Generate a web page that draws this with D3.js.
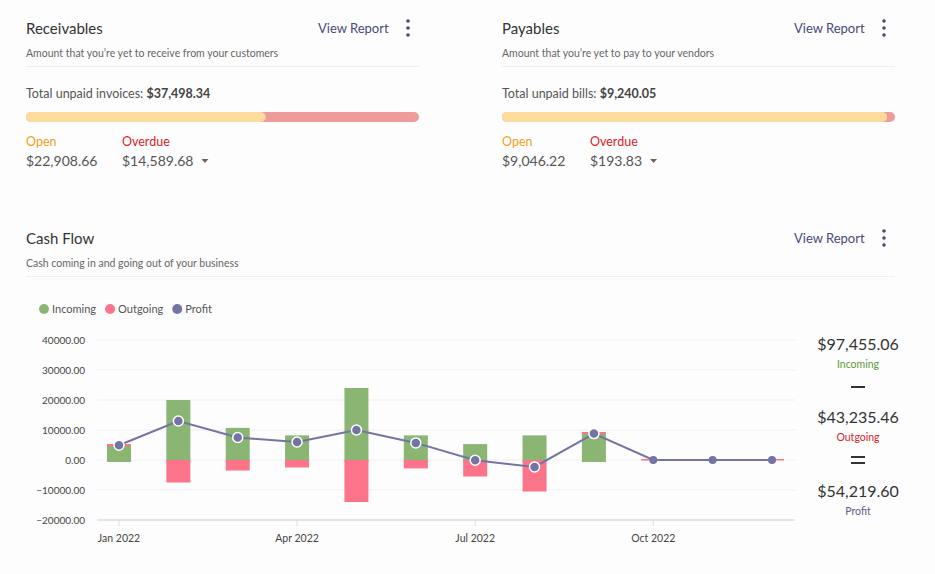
<!DOCTYPE html>
<html><head><meta charset="utf-8">
<script src="https://cdn.jsdelivr.net/npm/d3@7"></script>
<style>
body{margin:0;background:#fdfdfd;font-family:Lato,"Open Sans",sans-serif;}
svg text{font-family:Lato,"Open Sans",sans-serif;}
</style></head>
<body><svg id="c" width="935" height="574"></svg>
<script>
const months = ['Jan 2022','Feb 2022','Mar 2022','Apr 2022','May 2022','Jun 2022','Jul 2022','Aug 2022','Sep 2022','Oct 2022','Nov 2022','Dec 2022'];
const incoming = [5000,20000,10700,8200,24000,8200,5300,8200,9000,0,0,0];
const outgoing = [-300,-7500,-3500,-2500,-14000,-2800,-5500,-10500,-300,0,0,0];
const profit = [4900,13000,7500,6000,10000,5700,-100,-2300,8800,0,0,0];
const yTicks = [40000,30000,20000,10000,0,-10000,-20000];
const xTickLabels = ['Jan 2022','Apr 2022','Jul 2022','Oct 2022'];

const svg = d3.select('#c');

// header cards
function card(x, title, sub, totalLabel, total, openV, overV, frac, overX){
  const g = svg.append('g').attr('transform',`translate(${x},0)`);
  g.append('text').attr('x',0).attr('y',34).attr('font-size',15).attr('fill','#333').text(title);
  g.append('text').attr('x',292).attr('y',33).attr('font-size',13).attr('fill','#4a4a7a').text('View Report');
  [22,29,36].forEach(cy=>g.append('circle').attr('cx',382).attr('cy',cy-1).attr('r',1.8).attr('fill','#4a4a7a'));
  g.append('text').attr('x',0).attr('y',57).attr('font-size',10.5).attr('fill','#666').text(sub);
  g.append('line').attr('x1',0).attr('x2',393).attr('y1',66.5).attr('y2',66.5).attr('stroke','#eee');
  const t = g.append('text').attr('x',0).attr('y',98).attr('font-size',12.5).attr('fill','#555').text(totalLabel+' ');
  t.append('tspan').attr('font-weight','bold').attr('fill','#444').text(total);
  g.append('rect').attr('x',0).attr('y',112).attr('width',393).attr('height',10).attr('rx',5).attr('fill','#ee9c9a');
  g.append('rect').attr('x',0).attr('y',112).attr('width',393*frac).attr('height',10).attr('rx',5).attr('fill','#fddb9d');
  g.append('text').attr('x',0).attr('y',146).attr('font-size',12.5).attr('fill','#f49d1b').text('Open');
  g.append('text').attr('x',overX).attr('y',146).attr('font-size',12.5).attr('fill','#d8232a').text('Overdue');
  g.append('text').attr('x',0).attr('y',166).attr('font-size',14).attr('fill','#555').text(openV);
  const o = g.append('text').attr('x',overX).attr('y',166).attr('font-size',14).attr('fill','#555').text(overV);
  const w = o.node().getComputedTextLength();
  g.append('path').attr('d','M0,0 l7,0 l-3.5,4z').attr('transform',`translate(${overX+w+8},159)`).attr('fill','#666');
}
card(26,'Receivables','Amount that you\u2019re yet to receive from your customers','Total unpaid invoices:','$37,498.34','$22,908.66','$14,589.68',0.61,96);
card(502,'Payables','Amount that you\u2019re yet to pay to your vendors','Total unpaid bills:','$9,240.05','$9,046.22','$193.83',0.98,88);

// cash flow header
svg.append('text').attr('x',26).attr('y',244).attr('font-size',15).attr('fill','#333').text('Cash Flow');
svg.append('text').attr('x',26).attr('y',267).attr('font-size',10.5).attr('fill','#666').text('Cash coming in and going out of your business');
svg.append('text').attr('x',794).attr('y',243).attr('font-size',13).attr('fill','#4a4a7a').text('View Report');
[232,239,246].forEach(cy=>svg.append('circle').attr('cx',884).attr('cy',cy-1).attr('r',1.8).attr('fill','#4a4a7a'));
svg.append('line').attr('x1',26).attr('x2',895).attr('y1',276.5).attr('y2',276.5).attr('stroke','#eee');

// legend
const leg = [['Incoming','#8ab573'],['Outgoing','#fc7489'],['Profit','#7474a2']];
let lx = 44;
leg.forEach(([n,c])=>{
  svg.append('circle').attr('cx',lx).attr('cy',309).attr('r',5).attr('fill',c);
  const t = svg.append('text').attr('x',lx+8).attr('y',313).attr('font-size',11).attr('fill','#555').text(n);
  lx += t.node().getComputedTextLength()+22;
});

// scales
const x = d3.scalePoint().domain(months).range([119,772]);
const y = d3.scaleLinear().domain([-20000,40000]).range([520,340]);

const grid = svg.append('g');
yTicks.forEach(v=>{
  grid.append('line').attr('x1',97).attr('x2',795).attr('y1',y(v)).attr('y2',y(v))
    .attr('stroke', v===-20000 ? '#ddd' : '#efefef').attr('stroke-width', v===-20000?1.5:1);
  grid.append('text').attr('x',85).attr('y',y(v)+4).attr('text-anchor','end').attr('font-size',10).attr('fill','#444')
    .text(d3.format('.2f')(v));
});
xTickLabels.forEach(m=>{
  const xx = x(m);
  grid.append('line').attr('x1',xx).attr('x2',xx).attr('y1',520).attr('y2',526).attr('stroke','#ddd');
  grid.append('text').attr('x',xx).attr('y',542).attr('text-anchor','middle').attr('font-size',10.5).attr('fill','#444').text(m);
});

const bw = 24;
const data = months.map((m,i)=>({m,inc:incoming[i],out:outgoing[i],p:profit[i]}));
svg.append('g').selectAll('rect').data(data.filter(d=>d.inc>0)).join('rect')
  .attr('x',d=>x(d.m)-bw/2).attr('width',bw).attr('y',d=>y(d.inc)).attr('height',d=>y(0)-y(d.inc)+2).attr('fill','#8ab573');
svg.append('g').selectAll('rect').data(data).join('rect')
  .attr('x',d=>x(d.m)-bw/2).attr('width',bw)
  .attr('y',d=>d.out<-1000 ? y(0) : y(d.inc)-1)
  .attr('height',d=>d.out<-1000 ? y(d.out)-y(0) : (d.inc>0?2:1.5))
  .attr('fill','#fc7489');

svg.append('path').datum(data)
  .attr('d',d3.line().x(d=>x(d.m)).y(d=>y(d.p)))
  .attr('fill','none').attr('stroke','#7474a2').attr('stroke-width',2);
svg.append('g').selectAll('circle').data(data).join('circle')
  .attr('cx',d=>x(d.m)).attr('cy',d=>y(d.p)).attr('r',d=>d.inc>0||d.out<0?5:4)
  .attr('fill','#7474a2').attr('stroke','#fff').attr('stroke-width',d=>d.inc>0?1.5:0);

// totals
const tot = [['$97,455.06','Incoming','#5c9a3c',350],['$43,235.46','Outgoing','#d8232a',423],['$54,219.60','Profit','#5c5c8a',497]];
tot.forEach(([v,l,c,yy])=>{
  svg.append('text').attr('x',858).attr('y',yy).attr('text-anchor','middle').attr('font-size',16).attr('fill','#333').text(v);
  svg.append('text').attr('x',858).attr('y',yy+18).attr('text-anchor','middle').attr('font-size',10.5).attr('fill',c).text(l);
});
svg.append('rect').attr('x',851).attr('y',386).attr('width',14).attr('height',2).attr('fill','#333');
svg.append('rect').attr('x',851).attr('y',456).attr('width',14).attr('height',2).attr('fill','#333');
svg.append('rect').attr('x',851).attr('y',462).attr('width',14).attr('height',2).attr('fill','#333');
</script></body></html>
